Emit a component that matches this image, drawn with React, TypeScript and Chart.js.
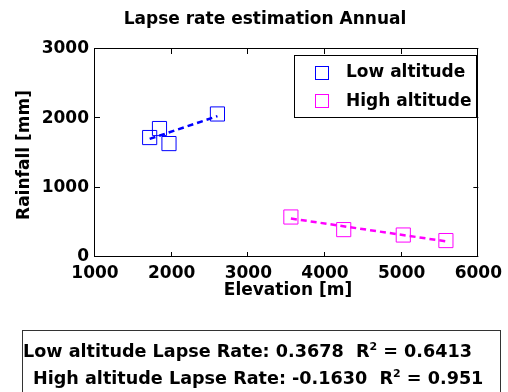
import React, { useEffect, useRef } from "react";
import { Chart, registerables } from "chart.js";

Chart.register(...registerables);

const lowElev = [1713, 1841, 1965, 2597];
const lowRain = [1723, 1853, 1636, 2063];
const highElev = [3555, 4244, 5021, 5577];
const highRain = [577, 395, 317, 237];
const lowFitElev = [1713, 2597];
const lowFitRain = [1703, 2032];
const highFitElev = [3555, 5577];
const highFitRain = [555, 226];

const xTicks = [1000, 2000, 3000, 4000, 5000, 6000];
const yTicks = [0, 1000, 2000, 3000];
const legendLabels = ["Low altitude", "High altitude"];
const titleText = "Lapse rate estimation Annual";
const xTitle = "Elevation [m]";
const yTitle = "Rainfall [mm]";

const BLUE = "#0000ff";
const MAGENTA = "#ff00ff";
const FONT = "bold 17px 'DejaVu Sans'";

const toPts = (xs: number[], ys: number[]) => xs.map((x, i) => ({ x, y: ys[i] }));

const decorPlugin = {
  id: "decor",
  afterDraw(chart: any) {
    const { ctx, chartArea } = chart;
    const { left, right, top, bottom } = chartArea;
    const xs = chart.scales.x;
    const ys = chart.scales.y;
    ctx.save();
    ctx.strokeStyle = "#000";
    ctx.lineWidth = 1;
    ctx.strokeRect(Math.round(left) - 0.5, Math.round(top) - 0.5, Math.round(right - left), Math.round(bottom - top));
    const tl = 5;
    ctx.beginPath();
    xTicks.forEach((v) => {
      const px = Math.round(xs.getPixelForValue(v)) - 0.5;
      ctx.moveTo(px, bottom);
      ctx.lineTo(px, bottom - tl);
      ctx.moveTo(px, top);
      ctx.lineTo(px, top + tl);
    });
    yTicks.forEach((v) => {
      const py = Math.round(ys.getPixelForValue(v)) - 0.5;
      ctx.moveTo(left, py);
      ctx.lineTo(left + tl, py);
      ctx.moveTo(right, py);
      ctx.lineTo(right - tl, py);
    });
    ctx.stroke();
    ctx.fillStyle = "#000";
    ctx.font = FONT;
    ctx.textAlign = "center";
    ctx.textBaseline = "middle";
    ctx.fillText(titleText, 265, 20);
    ctx.fillText(xTitle, 288, 291);
    ctx.save();
    ctx.translate(25, 155);
    ctx.rotate(-Math.PI / 2);
    ctx.fillText(yTitle, 0, 0);
    ctx.restore();
    const lx = 294.5, ly = 55.5, lw = 182, lh = 62;
    ctx.fillStyle = "#fff";
    ctx.fillRect(lx, ly, lw, lh);
    ctx.strokeStyle = "#000";
    ctx.strokeRect(lx, ly, lw, lh);
    const colors = [BLUE, MAGENTA];
    const rows = [72.7, 101.3];
    legendLabels.forEach((lab, i) => {
      ctx.strokeStyle = colors[i];
      ctx.strokeRect(315.5, Math.round(rows[i]) - 6.5, 13, 13);
      ctx.fillStyle = "#000";
      ctx.textAlign = "left";
      ctx.fillText(lab, 346, rows[i]);
    });
    ctx.restore();
  },
};

export default function App() {
  const ref = useRef<HTMLCanvasElement>(null);
  useEffect(() => {
    if (!ref.current) return;
    const tickFont = { family: "'DejaVu Sans'", size: 17, weight: "bold" as const };
    const chart = new Chart(ref.current, {
      type: "scatter",
      data: {
        datasets: [
          {
            label: "Low fit",
            data: toPts(lowFitElev, lowFitRain),
            showLine: true,
            borderColor: BLUE,
            borderWidth: 2.5,
            borderDash: [6, 4],
            pointRadius: 0,
            order: 0,
          },
          {
            label: "High fit",
            data: toPts(highFitElev, highFitRain),
            showLine: true,
            borderColor: MAGENTA,
            borderWidth: 2.5,
            borderDash: [6, 4],
            pointRadius: 0,
            order: 0,
          },
          {
            label: legendLabels[0],
            data: toPts(lowElev, lowRain),
            showLine: false,
            pointStyle: "rect",
            pointRadius: 10,
            borderColor: BLUE,
            backgroundColor: "rgba(0,0,0,0)",
            borderWidth: 1,
            order: 1,
          },
          {
            label: legendLabels[1],
            data: toPts(highElev, highRain),
            showLine: false,
            pointStyle: "rect",
            pointRadius: 10,
            borderColor: MAGENTA,
            backgroundColor: "rgba(0,0,0,0)",
            borderWidth: 1,
            order: 1,
          },
        ],
      },
      options: {
        responsive: false,
        animation: false,
        devicePixelRatio: 1,
        layout: { padding: { top: 49, right: 24, left: 0, bottom: 90 } },
        plugins: { legend: { display: false }, title: { display: false }, tooltip: { enabled: false } },
        scales: {
          x: {
            type: "linear",
            min: 1000,
            max: 6000,
            afterBuildTicks: (s: any) => { s.ticks = xTicks.map((v) => ({ value: v })); },
            afterFit: (s: any) => { s.height = 45; },
            grid: { display: false, drawTicks: false },
            border: { display: false },
            ticks: {
              font: tickFont,
              color: "#000",
              autoSkip: false,
              maxRotation: 0,
              padding: 6,
              callback: (v: any) => String(v),
            },
          },
          y: {
            type: "linear",
            min: 0,
            max: 3000,
            afterBuildTicks: (s: any) => { s.ticks = yTicks.map((v) => ({ value: v })); },
            afterFit: (s: any) => { s.width = 95; },
            grid: { display: false, drawTicks: false },
            border: { display: false },
            ticks: { font: tickFont, color: "#000", autoSkip: false, padding: 6, callback: (v: any) => String(v) },
          },
        },
      },
      plugins: [decorPlugin],
    });
    return () => chart.destroy();
  }, []);

  const lineStyle: React.CSSProperties = {
    position: "absolute",
    whiteSpace: "pre",
    font: "bold 17.6px 'DejaVu Sans'",
    lineHeight: "20px",
    color: "#000",
  };
  const sup: React.CSSProperties = { fontSize: "11px", verticalAlign: "super", lineHeight: 0 };

  return (
    <div style={{ position: "absolute", left: 0, top: 0, width: 508, height: 392, overflow: "hidden", background: "#fff" }}>
      <canvas ref={ref} width={508} height={392} style={{ position: "absolute", left: 0, top: 0 }} />
      <div
        style={{
          position: "absolute",
          left: 22,
          top: 330,
          width: 479,
          height: 80,
          border: "1px solid #333",
          boxSizing: "border-box",
        }}
      />
      <div style={{ ...lineStyle, left: 23, top: 341 }}>
        {"Low altitude Lapse Rate: 0.3678  R"}<span style={sup}>2</span>{" = 0.6413"}
      </div>
      <div style={{ ...lineStyle, left: 33, top: 368 }}>
        {"High altitude Lapse Rate: -0.1630  R"}<span style={sup}>2</span>{" = 0.951"}
      </div>
    </div>
  );
}
